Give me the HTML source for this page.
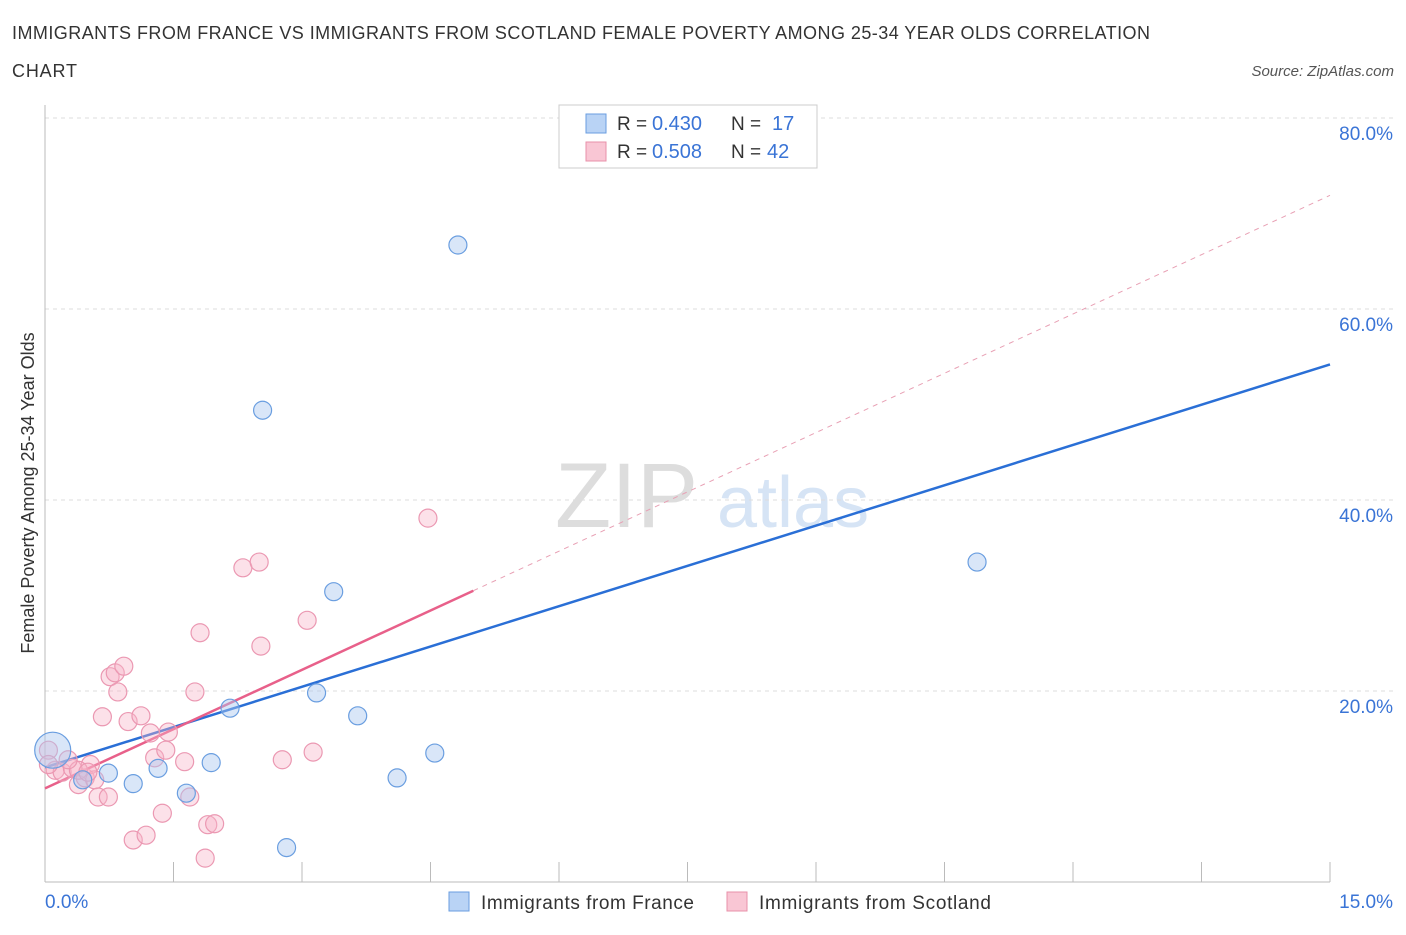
<!DOCTYPE html>
<html><head><meta charset="utf-8"><style>
body{margin:0;background:#fff;font-family:"Liberation Sans",sans-serif;}
svg text{font-family:"Liberation Sans",sans-serif;}
</style></head><body>
<svg width="1406" height="930" xmlns="http://www.w3.org/2000/svg" id="c">
<text x="12" y="39" font-size="18" fill="#333" textLength="1138" lengthAdjust="spacing">IMMIGRANTS FROM FRANCE VS IMMIGRANTS FROM SCOTLAND FEMALE POVERTY AMONG 25-34 YEAR OLDS CORRELATION</text>
<text x="12" y="77" font-size="18" fill="#333" textLength="65" lengthAdjust="spacing">CHART</text>
<text x="1394" y="76" font-size="15" fill="#555" text-anchor="end" font-style="italic">Source: ZipAtlas.com</text>
<text transform="translate(34,493) rotate(-90)" font-size="18" fill="#333" text-anchor="middle">Female Poverty Among 25-34 Year Olds</text>
<text x="555" y="527" font-size="92" fill="#ddd" font-family="Liberation Serif">ZIP</text>
<text x="717" y="527" font-size="72" fill="#d6e4f5">atlas</text>
<g id="grid"></g><g id="axes"></g><g id="lines"></g><g id="pts"></g>
<g>
<rect x="559" y="105" width="258" height="63" fill="#fff" stroke="#ccc"/>
<rect x="586" y="114" width="20" height="19" fill="#b9d3f5" stroke="#6a9ee0"/>
<text x="617" y="130" font-size="19" fill="#333">R =</text>
<text x="652" y="130" font-size="20" fill="#3a74d6">0.430</text>
<text x="731" y="130" font-size="19" fill="#333">N =</text>
<text x="772" y="130" font-size="20" fill="#3a74d6">17</text>
<rect x="586" y="142" width="20" height="19" fill="#f9c6d4" stroke="#e890aa"/>
<text x="617" y="158" font-size="19" fill="#333">R =</text>
<text x="652" y="158" font-size="20" fill="#3a74d6">0.508</text>
<text x="731" y="158" font-size="19" fill="#333">N =</text>
<text x="767" y="158" font-size="20" fill="#3a74d6">42</text>
</g>
<g>
<rect x="449" y="892" width="20" height="19" fill="#b9d3f5" stroke="#6a9ee0"/>
<text x="481" y="909" font-size="19" fill="#333" textLength="213" lengthAdjust="spacing">Immigrants from France</text>
<rect x="727" y="892" width="20" height="19" fill="#f9c6d4" stroke="#e890aa"/>
<text x="759" y="909" font-size="19" fill="#333" textLength="232" lengthAdjust="spacing">Immigrants from Scotland</text>
</g>
</svg>
<script>
const franceX=[0.09,0.44,0.74,1.03,1.32,1.65,1.94,2.16,2.54,2.82,3.17,3.37,3.65,4.11,4.55,4.82,10.88];
const franceY=[13.8,10.7,11.4,10.3,11.9,9.3,12.5,18.2,49.4,3.6,19.8,30.4,17.4,10.9,13.5,66.7,33.5];
const scotX=[0.04,0.12,0.20,0.32,0.39,0.47,0.53,0.58,0.39,0.62,0.67,0.74,0.76,0.82,0.85,0.92,0.97,1.03,1.12,1.18,1.23,1.28,1.37,1.41,1.44,1.63,1.69,1.75,1.81,1.87,1.90,1.98,2.31,2.50,2.52,2.77,3.06,3.13,4.47,0.04,0.50,0.27];
const scotY=[13.8,11.7,11.5,11.9,10.2,10.9,12.3,10.7,11.7,8.9,17.3,8.9,21.5,21.9,19.9,22.6,16.8,4.4,17.4,4.9,15.6,13.0,7.2,13.8,15.7,12.6,8.9,19.9,26.1,2.5,6.0,6.1,32.9,33.5,24.7,12.8,27.4,13.6,38.1,12.3,11.5,12.8];
const yTicks=[20,40,60,80];
const yTickLabels=["20.0%","40.0%","60.0%","80.0%"];
const xTicks=[0,1.5,3,4.5,6,7.5,9,10.5,12,13.5,15];
const franceLine=[[0,12.0],[15,54.2]];
const scotLine=[[0,9.8],[5.0,30.5]];
const scotDash=[[5.0,30.5],[15,71.9]];
const NS="http://www.w3.org/2000/svg";
const X=v=>45+v/15*1285, Y=v=>882-v/20*191;
function mk(t,a,p){const e=document.createElementNS(NS,t);for(const k in a)e.setAttribute(k,a[k]);p.appendChild(e);return e;}
const grid=document.getElementById('grid'),axes=document.getElementById('axes'),lines=document.getElementById('lines'),pts=document.getElementById('pts');
yTicks.forEach((v,i)=>{
 const l=mk('line',{x1:45,x2:1394,y1:Y(v),y2:Y(v),stroke:'#ddd','stroke-dasharray':'4,4'},grid);
 
 
 const t=mk('text',{x:1393,y:Y(v)+22,'font-size':19,fill:'#3a74d6','text-anchor':'end'},grid);
 t.textContent=yTickLabels[i];
 
 
});
let a=mk('line',{x1:45,x2:45,y1:105,y2:882,stroke:'#bbb'},axes);


a=mk('line',{x1:45,x2:1330,y1:882,y2:882,stroke:'#bbb'},axes);


xTicks.forEach(v=>{const t=mk('line',{x1:X(v),x2:X(v),y1:862,y2:882,stroke:'#bbb'},axes);
 
 });
let t=mk('text',{x:45,y:908,'font-size':19,fill:'#3a74d6'},axes);t.textContent='0.0%';


t=mk('text',{x:1393,y:908,'font-size':19,fill:'#3a74d6','text-anchor':'end'},axes);t.textContent='15.0%';


function ln(p,c,w,d,n){const e=mk('line',{x1:X(p[0][0]),y1:Y(p[0][1]),x2:X(p[1][0]),y2:Y(p[1][1]),stroke:c,'stroke-width':w},lines);if(d)e.setAttribute('stroke-dasharray',d);
 
 }
ln(scotDash,'#e8a0b4',1,'5,5','scotland-trend-extension');
ln(franceLine,'#2a6fd6',2.5,null,'france-trend-line');
ln(scotLine,'#e8608a',2.5,null,'scotland-trend-line');
scotX.forEach((x,i)=>{const c=mk('circle',{cx:X(x),cy:Y(scotY[i]),r:9,fill:'rgba(248,180,200,0.4)',stroke:'#eb98b2','stroke-width':1.2},pts);
 
 });
franceX.forEach((x,i)=>{const c=mk('circle',{cx:X(x),cy:Y(franceY[i]),r:i==0?18:9,fill:'rgba(170,200,240,0.45)',stroke:'#6a9ee0','stroke-width':1.2},pts);
 
 });
</script>
</body></html>
